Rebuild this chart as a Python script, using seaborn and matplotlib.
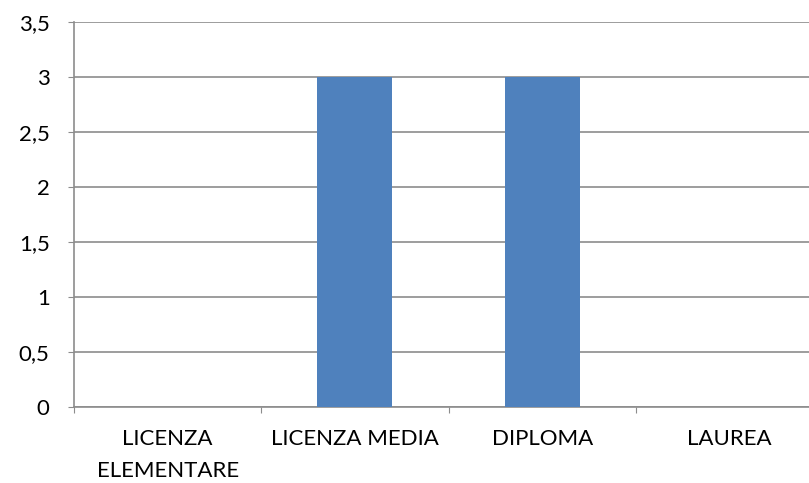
import matplotlib
matplotlib.use("Agg")
import matplotlib.pyplot as plt
import seaborn as sns
import pandas as pd
from matplotlib.ticker import FuncFormatter

categories = ["LICENZA\nELEMENTARE", "LICENZA MEDIA", "DIPLOMA", "LAUREA"]
values = [0, 3, 3, 0]
y_ticks = [0, 0.5, 1, 1.5, 2, 2.5, 3, 3.5]

df = pd.DataFrame({"categoria": categories, "valore": values})

sns.set_style("white")
plt.rcParams["font.family"] = ["Lato", "DejaVu Sans"]

grid_col = "#8c8c8c"
fig = plt.figure(figsize=(8.09, 4.83), dpi=100)
# the plot area runs past the right edge of the figure, as in the original
ax = fig.add_axes([74 / 809, 1 - 407 / 483, 749 / 809, 385 / 483])

sns.barplot(data=df, x="categoria", y="valore", color="#4f81bd",
            width=0.4, saturation=1, linewidth=0, ax=ax, zorder=3)

ax.set_xlim(-0.5, 3.5)
ax.set_ylim(0, 3.5)
ax.set_yticks(y_ticks)
ax.yaxis.set_major_formatter(FuncFormatter(lambda v, p: f"{v:g}".replace(".", ",")))
ax.yaxis.grid(True, color=grid_col, linewidth=1.2, zorder=0)
ax.set_axisbelow(True)

# category boundaries get the tick marks, labels sit in between
ax.set_xticks([-0.5, 0.5, 1.5, 2.5, 3.5])
ax.set_xticklabels([])
ax.set_xticks(range(len(categories)), minor=True)
ax.set_xticklabels(categories, minor=True, linespacing=1.75)
ax.tick_params(axis="x", which="major", length=4.5, color=grid_col, direction="out", bottom=True)
ax.tick_params(axis="x", which="minor", length=0, pad=16, labelsize=16, labelcolor="black")
ax.tick_params(axis="y", length=4.5, color=grid_col, direction="out", left=True,
               labelsize=16, labelcolor="black", pad=13)

for side in ["top", "right"]:
    ax.spines[side].set_visible(False)
for side in ["left", "bottom"]:
    ax.spines[side].set_color(grid_col)
    ax.spines[side].set_linewidth(1.2)

ax.set_xlabel("")
ax.set_ylabel("")

fig.savefig("out.png", dpi=100)
